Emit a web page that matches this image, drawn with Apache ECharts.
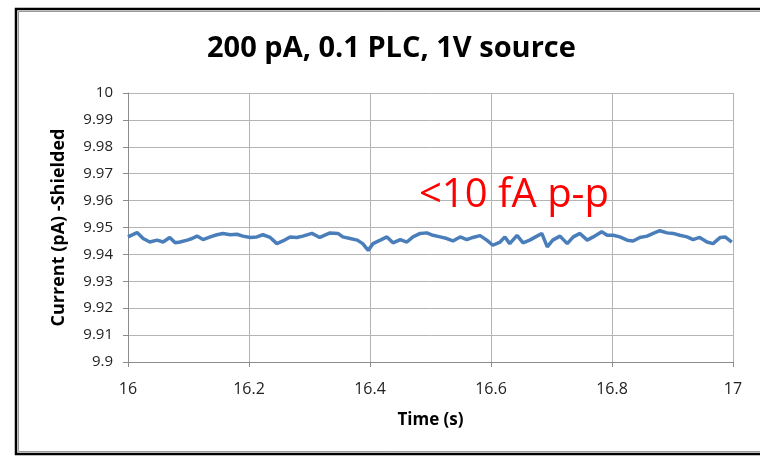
<!DOCTYPE html>
<html>
<head>
<meta charset="utf-8">
<script src="https://cdn.jsdelivr.net/npm/echarts@6/dist/echarts.min.js"></script>
<style>
  html, body { margin: 0; padding: 0; background: #fff; }
  #chart { width: 760px; height: 456px; }
</style>
</head>
<body>
<div id="chart"></div>
<script>
// time (s)
const times = [
  16.000, 16.015, 16.025, 16.036, 16.048, 16.058, 16.069, 16.078, 16.086, 16.098,
  16.106, 16.114, 16.124, 16.136, 16.147, 16.157, 16.169, 16.180, 16.190, 16.202,
  16.213, 16.223, 16.235, 16.246, 16.256, 16.268, 16.279, 16.289, 16.304, 16.317,
  16.334, 16.347, 16.355, 16.367, 16.379, 16.388, 16.397, 16.405, 16.417, 16.428,
  16.438, 16.450, 16.461, 16.471, 16.483, 16.494, 16.504, 16.516, 16.527, 16.537,
  16.549, 16.560, 16.570, 16.582, 16.593, 16.603, 16.615, 16.623, 16.631, 16.643,
  16.653, 16.664, 16.676, 16.684, 16.693, 16.702, 16.714, 16.726, 16.736, 16.747,
  16.759, 16.769, 16.783, 16.792, 16.802, 16.813, 16.825, 16.835, 16.846, 16.858,
  16.868, 16.879, 16.891, 16.901, 16.912, 16.924, 16.934, 16.945, 16.957, 16.967,
  16.979, 16.987, 16.998
]
// current (pA)
const currents = [
  9.9465, 9.9481, 9.9459, 9.9446, 9.9453, 9.9446, 9.9463, 9.9443, 9.9446, 9.9453,
  9.9459, 9.9468, 9.9455, 9.9465, 9.9473, 9.9478, 9.9473, 9.9475, 9.9468, 9.9463,
  9.9465, 9.9473, 9.9463, 9.9440, 9.9450, 9.9465, 9.9463, 9.9468, 9.9478, 9.9463,
  9.9480, 9.9478, 9.9465, 9.9459, 9.9453, 9.9440, 9.9415, 9.9440, 9.9453, 9.9465,
  9.9443, 9.9455, 9.9446, 9.9465, 9.9478, 9.9480, 9.9471, 9.9465, 9.9459, 9.9450,
  9.9465, 9.9455, 9.9463, 9.9470, 9.9453, 9.9434, 9.9446, 9.9465, 9.9440, 9.9471,
  9.9443, 9.9453, 9.9468, 9.9478, 9.9428, 9.9453, 9.9468, 9.9440, 9.9465, 9.9478,
  9.9453, 9.9465, 9.9484, 9.9471, 9.9471, 9.9465, 9.9453, 9.9450, 9.9463, 9.9468,
  9.9478, 9.9488, 9.9480, 9.9478, 9.9471, 9.9465, 9.9455, 9.9463, 9.9446, 9.9440,
  9.9463, 9.9465, 9.9446
]
const xTicks = { min: 16, max: 17, step: 0.2 }
const yTicks = { min: 9.9, max: 10, step: 0.01 }

const chart = echarts.init(document.getElementById('chart'))

const font = '"Open Sans", "Liberation Sans", sans-serif'

const option = {
  animation: false,
  backgroundColor: '#fff',
  title: {
    text: '200 pA, 0.1 PLC, 1V source',
    left: 202,
    top: 29,
    textStyle: {
      fontFamily: font,
      fontSize: 29,
      fontWeight: 'bold',
      color: '#000'
    }
  },
  grid: {
    left: 128,
    right: 27,
    top: 93,
    bottom: 94
  },
  xAxis: {
    type: 'value',
    min: xTicks.min,
    max: xTicks.max,
    interval: xTicks.step,
    name: 'Time (s)',
    nameLocation: 'middle',
    nameGap: 50,
    nameTextStyle: {
      fontFamily: font,
      fontSize: 17,
      fontWeight: 'bold',
      color: '#000'
    },
    axisLine: { lineStyle: { color: '#8c8c8c', width: 1 } },
    axisTick: { show: true, inside: false, length: 5, lineStyle: { color: '#8c8c8c' } },
    axisLabel: {
      margin: 19,
      fontFamily: font,
      fontSize: 16,
      color: '#222',
      formatter: (v) => String(Math.round(v * 10) / 10)
    },
    splitLine: { show: true, lineStyle: { color: '#b4b4b4', width: 1 } }
  },
  yAxis: {
    type: 'value',
    min: yTicks.min,
    max: yTicks.max,
    interval: yTicks.step,
    name: 'Current (pA) -Shielded',
    nameLocation: 'middle',
    nameGap: 60,
    nameTextStyle: {
      fontFamily: font,
      fontSize: 18,
      fontWeight: 'bold',
      color: '#000'
    },
    axisLine: { show: true, lineStyle: { color: '#8c8c8c', width: 1 } },
    axisTick: { show: true, inside: false, length: 5, lineStyle: { color: '#8c8c8c' } },
    axisLabel: {
      margin: 15,
      fontFamily: font,
      fontSize: 15,
      color: '#222',
      formatter: (v) => String(Math.round(v * 100) / 100)
    },
    splitLine: { show: true, lineStyle: { color: '#b4b4b4', width: 1 } }
  },
  series: [
    {
      type: 'line',
      data: times.map((t, i) => [t, currents[i]]),
      showSymbol: false,
      lineStyle: { color: '#4a7ebb', width: 3.5 },
      itemStyle: { color: '#4a7ebb' }
    }
  ],
  graphic: [
    {
      type: 'rect',
      shape: { x: 16, y: 9, width: 800, height: 445 },
      style: { fill: 'none', stroke: '#000', lineWidth: 2.5 },
      z: 100
    },
    {
      type: 'rect',
      shape: { x: 18.5, y: 11.5, width: 800, height: 440 },
      style: { fill: 'none', stroke: '#999', lineWidth: 1 },
      z: 100
    },
    {
      type: 'text',
      left: 419,
      top: 176,
      style: {
        text: '<10 fA p-p',
        fontFamily: font,
        fontSize: 40,
        fill: '#ff0000'
      },
      z: 100
    }
  ]
}

chart.setOption(option)

window.addEventListener('resize', () => {
  chart?.resize()
})
</script>
</body>
</html>
